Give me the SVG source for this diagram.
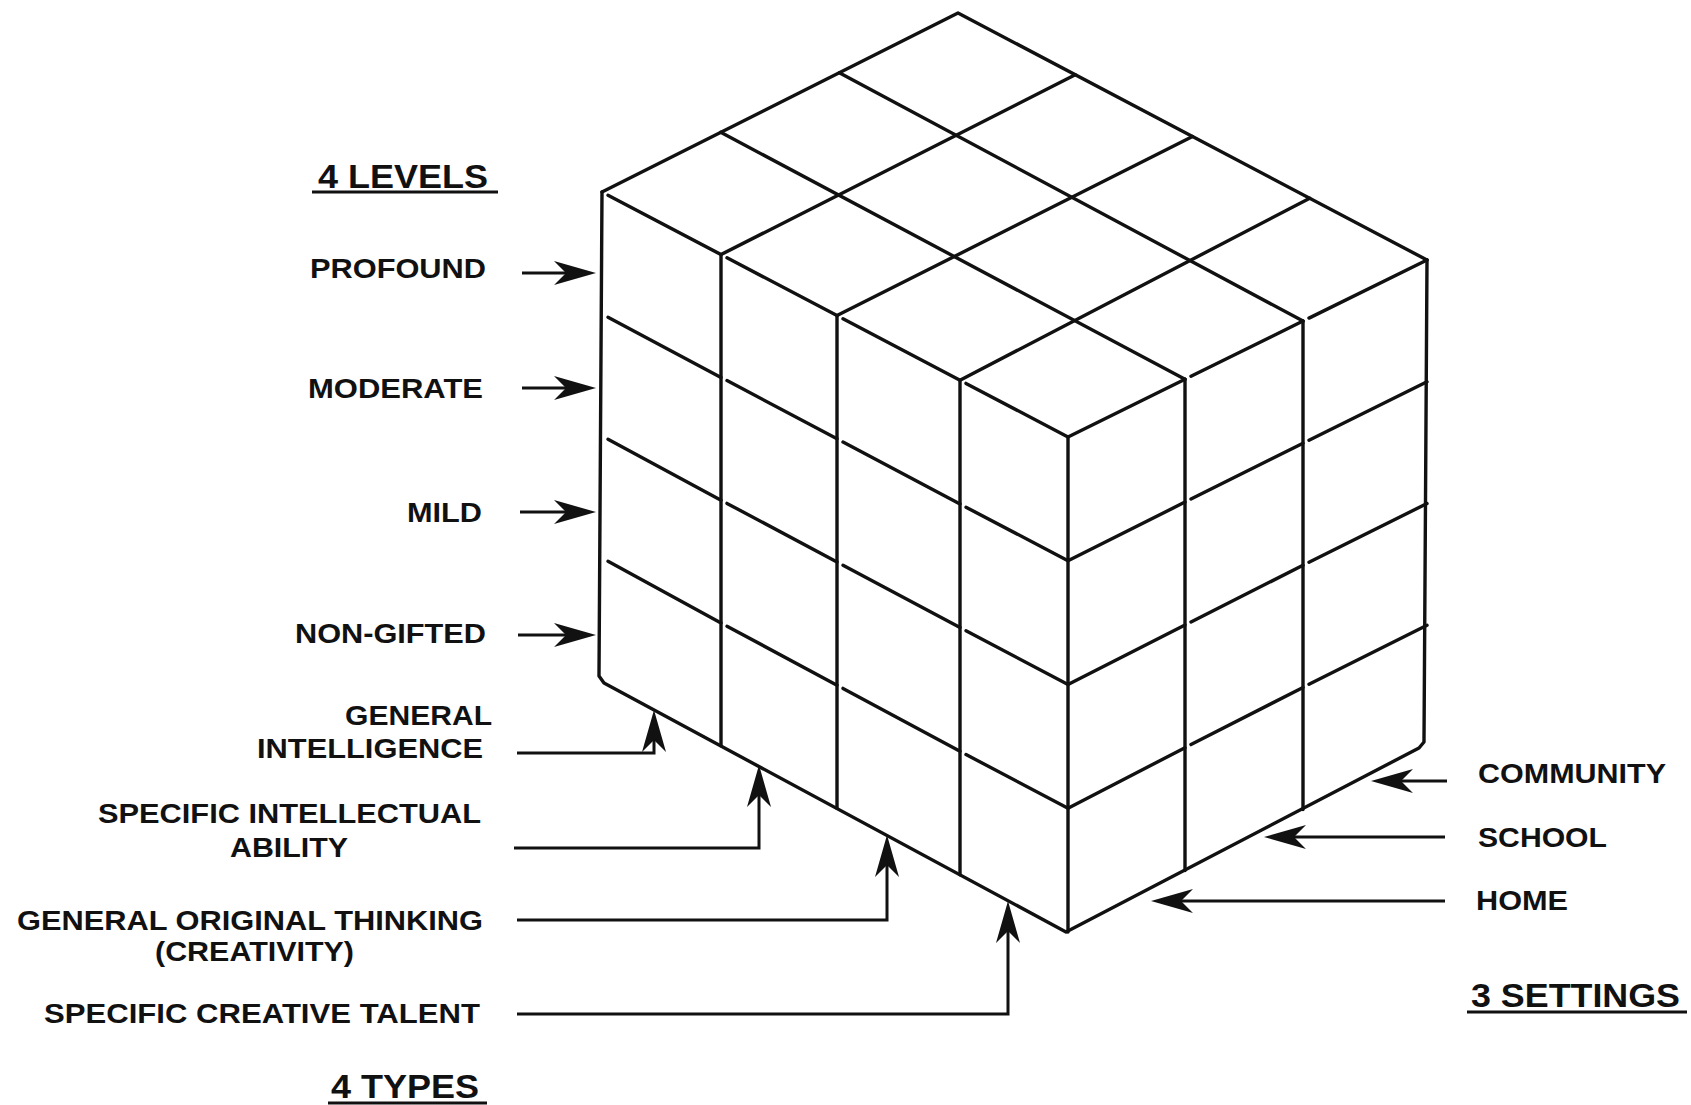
<svg xmlns="http://www.w3.org/2000/svg" width="1691" height="1105" viewBox="0 0 1691 1105">
<style>
.bg{fill:#fff}
.edge{fill:none;stroke:#111;stroke-width:3.4;stroke-linecap:round;stroke-linejoin:round}
.conn{fill:none;stroke:#111;stroke-width:3}
.lbl{font-family:"Liberation Sans",Arial,Helvetica,sans-serif;font-weight:bold;font-size:28px;fill:#111}
.head{font-family:"Liberation Sans",Arial,Helvetica,sans-serif;font-weight:bold;font-size:33px;fill:#111}
.ul{fill:none;stroke:#111;stroke-width:3}
</style>
<defs>
<marker id="ah" markerUnits="userSpaceOnUse" viewBox="-46 -14 48 28" markerWidth="48" markerHeight="28" refX="-20" refY="0" orient="auto" overflow="visible">
<path d="M0,0 L-42,-12 L-30,0 L-42,12 Z" fill="#111"/>
</marker>
</defs>
<rect class="bg" x="0" y="0" width="1691" height="1105"/>

<g id="cube">
<g id="cube-outline">
<path class="edge" d="M602,192 L958,13 L1427,260"/>
<path class="edge" d="M602,192 L599,676 L604,683 L1066,932 L1419,748 L1424,742 L1427,260"/>
</g>
<g id="top-face">
<path class="edge" d="M720.7,132.3 L1185,379.3"/>
<path class="edge" d="M839.3,72.7 L1303,321.1"/>
<path class="edge" d="M721,254.6 L1075.25,74.75"/>
<path class="edge" d="M837,315.6 L1192.5,136.5"/>
<path class="edge" d="M960,380.2 L1309.75,198.25"/>
</g>
<g id="front-left-face">
<path class="edge" d="M721,254.6 V745.8 M837,315.6 V808.4 M960,380.2 V874.8 M1068,437 V932"/>
<path class="edge" d="M608,195.2 L721,254.6 M727,257.8 L837,315.6 M843,318.8 L960,380.2 M966,383.4 L1068,437"/>
<path class="edge" d="M608,317.2 L721,377.4 M727,380.6 L837,438.8 M843,442 L960,503.9 M966,507.2 L1068,560.75"/>
<path class="edge" d="M608,439.2 L721,500.2 M727,503.4 L837,562 M843,565.2 L960,627.5 M966,630.7 L1068,684.5"/>
<path class="edge" d="M608,561.2 L721,623 M727,626.2 L837,685.2 M843,688.4 L960,751.2 M966,754.5 L1068,808.25"/>
</g>
<g id="front-right-face">
<path class="edge" d="M1185,379.3 V870.5 M1303,321.1 V809.5"/>
<path class="edge" d="M1068,437 L1185,379.3 M1191,376.3 L1303,321.1 M1309,318.1 L1427,260"/>
<path class="edge" d="M1068,560.75 L1185,502.1 M1191,499.1 L1303,443.2 M1309,440.2 L1427,381.75"/>
<path class="edge" d="M1068,684.5 L1185,624.9 M1191,621.9 L1303,565.3 M1309,562.3 L1427,503.5"/>
<path class="edge" d="M1068,808.25 L1185,747.7 M1191,744.6 L1303,687.4 M1309,684.3 L1427,625.25"/>
</g>
</g>

<g id="connectors">
<path class="conn" d="M522,273 H576" marker-end="url(#ah)"/>
<path class="conn" d="M522,388 H576" marker-end="url(#ah)"/>
<path class="conn" d="M520,512 H576" marker-end="url(#ah)"/>
<path class="conn" d="M518,635 H576" marker-end="url(#ah)"/>
<path class="conn" d="M517,753 H654 V730" marker-end="url(#ah)"/>
<path class="conn" d="M514,848 H759 V785" marker-end="url(#ah)"/>
<path class="conn" d="M517,920 H887 V855" marker-end="url(#ah)"/>
<path class="conn" d="M517,1014 H1008 V921" marker-end="url(#ah)"/>
<path class="conn" d="M1447,781 H1391" marker-end="url(#ah)"/>
<path class="conn" d="M1445,837 H1284" marker-end="url(#ah)"/>
<path class="conn" d="M1445,901 H1171" marker-end="url(#ah)"/>
</g>

<g id="levels-title">
<text class="head" x="318" y="188" textLength="170" lengthAdjust="spacingAndGlyphs">4 LEVELS</text>
<path class="ul" d="M312,192 H498"/>
</g>
<g id="level-profound"><text class="lbl" x="310" y="278" textLength="176" lengthAdjust="spacingAndGlyphs">PROFOUND</text></g>
<g id="level-moderate"><text class="lbl" x="308" y="398" textLength="175" lengthAdjust="spacingAndGlyphs">MODERATE</text></g>
<g id="level-mild"><text class="lbl" x="407" y="522" textLength="75" lengthAdjust="spacingAndGlyphs">MILD</text></g>
<g id="level-nongifted"><text class="lbl" x="295" y="643" textLength="191" lengthAdjust="spacingAndGlyphs">NON-GIFTED</text></g>

<g id="type-general-intelligence">
<text class="lbl" x="345" y="725" textLength="147" lengthAdjust="spacingAndGlyphs">GENERAL</text>
<text class="lbl" x="257" y="758" textLength="226" lengthAdjust="spacingAndGlyphs">INTELLIGENCE</text>
</g>
<g id="type-specific-intellectual">
<text class="lbl" x="98" y="823" textLength="383" lengthAdjust="spacingAndGlyphs">SPECIFIC INTELLECTUAL</text>
<text class="lbl" x="230" y="857" textLength="118" lengthAdjust="spacingAndGlyphs">ABILITY</text>
</g>
<g id="type-general-original">
<text class="lbl" x="17" y="930" textLength="466" lengthAdjust="spacingAndGlyphs">GENERAL ORIGINAL THINKING</text>
<text class="lbl" x="155" y="961" textLength="199" lengthAdjust="spacingAndGlyphs">(CREATIVITY)</text>
</g>
<g id="type-specific-creative">
<text class="lbl" x="44" y="1023" textLength="436" lengthAdjust="spacingAndGlyphs">SPECIFIC CREATIVE TALENT</text>
</g>
<g id="types-title">
<text class="head" x="331" y="1098" textLength="148" lengthAdjust="spacingAndGlyphs">4 TYPES</text>
<path class="ul" d="M328,1103 H487"/>
</g>

<g id="setting-community"><text class="lbl" x="1478" y="783" textLength="188" lengthAdjust="spacingAndGlyphs">COMMUNITY</text></g>
<g id="setting-school"><text class="lbl" x="1478" y="847" textLength="129" lengthAdjust="spacingAndGlyphs">SCHOOL</text></g>
<g id="setting-home"><text class="lbl" x="1476" y="910" textLength="92" lengthAdjust="spacingAndGlyphs">HOME</text></g>
<g id="settings-title">
<text class="head" x="1471" y="1007" textLength="209" lengthAdjust="spacingAndGlyphs">3 SETTINGS</text>
<path class="ul" d="M1467,1012 H1687"/>
</g>
</svg>
